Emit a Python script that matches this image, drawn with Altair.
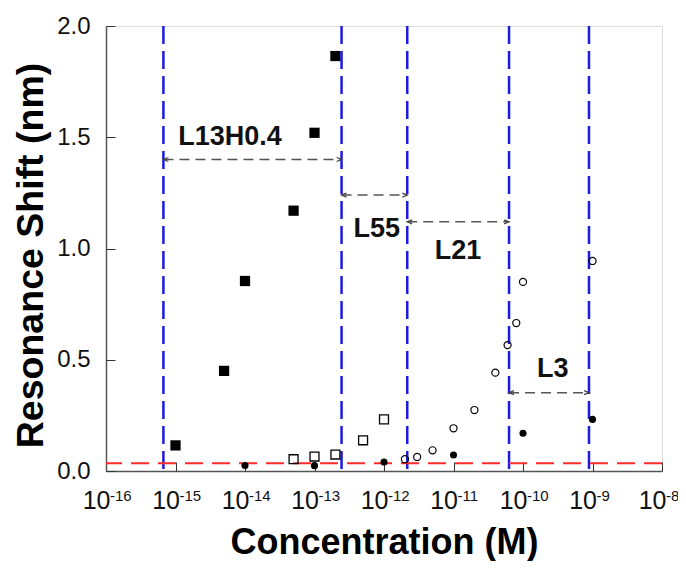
import altair as alt
import pandas as pd

FONT = "Liberation Sans"

# ---- axis definitions ----
x_domain = [1e-16, 1e-8]
y_domain = [0.0, 2.0]
x_ticks = [1e-16, 1e-15, 1e-14, 1e-13, 1e-12, 1e-11, 1e-10, 1e-9, 1e-8]
x_tick_base = "10"
x_tick_exponents = ["-16", "-15", "-14", "-13", "-12", "-11", "-10", "-9", "-8"]
y_ticks = [0.0, 0.5, 1.0, 1.5, 2.0]

# ---- data series ----
filled_sq_x = [1e-15, 5e-15, 1e-14, 5e-14, 1e-13, 2e-13]
filled_sq_y = [0.115, 0.45, 0.854, 1.17, 1.52, 1.865]

open_sq_x = [5e-14, 1e-13, 2e-13, 5e-13, 1e-12]
open_sq_y = [0.053, 0.065, 0.074, 0.138, 0.232]

open_circ_x = [2e-12, 3e-12, 5e-12, 1e-11, 2e-11, 4e-11, 6e-11, 8e-11, 1e-10, 1e-9]
open_circ_y = [0.053, 0.063, 0.093, 0.192, 0.274, 0.442, 0.566, 0.665, 0.85, 0.944]

filled_circ_x = [1e-14, 1e-13, 1e-12, 1e-11, 1e-10, 1e-9]
filled_circ_y = [0.025, 0.024, 0.04, 0.072, 0.17, 0.232]

# ---- reference lines / annotations ----
boundary_x = [6.7e-16, 2.45e-13, 2.16e-12, 6.3e-11, 8.9e-10]
baseline_y = [0.035]

range_names = ["L13H0.4", "L55", "L21", "L3"]
range_start = [6.7e-16, 2.45e-13, 2.16e-12, 6.3e-11]
range_end = [2.45e-13, 2.16e-12, 6.3e-11, 8.9e-10]
range_arrow_y = [1.40, 1.24, 1.12, 0.352]
range_label_x = [6.1e-15, 7.85e-13, 1.16e-11, 2.67e-10]
range_label_y = [1.50, 1.086, 0.987, 0.457]

# ---- frames ----
def pts(xs, ys):
    return pd.DataFrame({"conc": xs, "shift": ys})

arrows = pd.DataFrame({"name": range_names, "x1": range_start, "x2": range_end, "y": range_arrow_y})
heads_left = pd.DataFrame({"x": range_start, "y": range_arrow_y})
heads_right = pd.DataFrame({"x": range_end, "y": range_arrow_y})
labels = pd.DataFrame({"name": range_names, "x": range_label_x, "y": range_label_y})
exps = pd.DataFrame({"x": x_ticks, "e": x_tick_exponents})

xscale = alt.Scale(type="log", domain=x_domain)
yscale = alt.Scale(domain=y_domain)

x_axis_main = alt.Axis(
    values=x_ticks, labelExpr=f"'{x_tick_base}'", ticks=False, tickSize=0, grid=False,
    domain=True, domainColor="#555555", domainWidth=1.5,
    labelFont=FONT, labelFontSize=25, labelColor="#111111", labelPadding=37.5,
    labelBaseline="alphabetic", labelAlign="right", labelOffset=4,
    labelFlush=False, labelOverlap=False,
    title="Concentration (M)", titleFont=FONT, titleFontSize=36, titleFontWeight="bold",
    titleColor="#000000", titleX=278, titleY=82, titleBaseline="alphabetic", orient="bottom",
)
y_axis_main = alt.Axis(
    values=y_ticks, format=".1f", ticks=False, tickSize=0, grid=False,
    domain=True, domainColor="#555555", domainWidth=1.5,
    labelFont=FONT, labelFontSize=24, labelColor="#111111", labelPadding=16,
    labelFlush=False, labelOverlap=False,
    title="Resonance Shift (nm)", titleFont=FONT, titleFontSize=37.5, titleFontWeight="bold",
    titleColor="#000000", titleX=-64, titleY=229, titleAngle=270, titleBaseline="alphabetic",
    orient="left",
)
x_axis_ticks = alt.Axis(
    values=x_ticks, ticks=True, tickSize=9, tickColor="#333333", tickWidth=1,
    labels=False, domain=False, grid=False, offset=-9, title=None, orient="bottom",
)
y_axis_ticks = alt.Axis(
    values=y_ticks, ticks=True, tickSize=9, tickColor="#333333", tickWidth=1,
    labels=False, domain=False, grid=False, offset=-9, title=None, orient="left",
)


def X(f, ax=None):
    return alt.X(f, type="quantitative", scale=xscale, axis=ax)


def Y(f, ax=None):
    return alt.Y(f, type="quantitative", scale=yscale, axis=ax)


main_pts = alt.Chart(pts(filled_sq_x, filled_sq_y)).mark_point(
    shape="square", filled=True, color="#000000", size=105, opacity=1
).encode(x=X("conc", x_axis_main), y=Y("shift", y_axis_main))

tick_layer = alt.Chart(pd.DataFrame({"x": [1e-16], "y": [0.0]})).mark_point(opacity=0).encode(
    x=X("x", x_axis_ticks), y=Y("y", y_axis_ticks)
)

open_sq = alt.Chart(pts(open_sq_x, open_sq_y)).mark_point(
    shape="square", filled=False, color="#000000", size=80, strokeWidth=1.3, opacity=1
).encode(x=X("conc"), y=Y("shift"))

open_circ = alt.Chart(pts(open_circ_x, open_circ_y)).mark_point(
    shape="circle", filled=False, color="#000000", size=50, strokeWidth=1.2, opacity=1
).encode(x=X("conc"), y=Y("shift"))

filled_circ = alt.Chart(pts(filled_circ_x, filled_circ_y)).mark_point(
    shape="circle", filled=True, color="#000000", size=50, opacity=1
).encode(x=X("conc"), y=Y("shift"))

vlines = alt.Chart(pd.DataFrame({"x": boundary_x})).mark_rule(
    color="#1c1ce0", strokeWidth=2.5, strokeDash=[18, 7]
).encode(x=X("x"))

hline = alt.Chart(pd.DataFrame({"y": baseline_y})).mark_rule(
    color="#ff2a2a", strokeWidth=2, strokeDash=[18, 9]
).encode(y=Y("y"))

arrow_lines = alt.Chart(arrows).mark_rule(
    color="#555555", strokeWidth=1.5, strokeDash=[10, 6]
).encode(x=X("x1"), x2="x2", y=Y("y"))

left_heads = alt.Chart(heads_left).mark_point(
    shape="M 2.2 -0.9 L 0 0 L 2.2 0.9", filled=False, color="#444444", size=20, strokeWidth=1.3, opacity=1
).encode(x=X("x"), y=Y("y"))
right_heads = alt.Chart(heads_right).mark_point(
    shape="M -2.2 -0.9 L 0 0 L -2.2 0.9", filled=False, color="#444444", size=20, strokeWidth=1.3, opacity=1
).encode(x=X("x"), y=Y("y"))

texts = alt.Chart(labels).mark_text(
    font=FONT, fontSize=27, fontWeight="bold", color="#111111", align="center", baseline="middle"
).encode(x=X("x"), y=Y("y"), text="name:N")

exp_text = alt.Chart(exps).mark_text(
    font=FONT, fontSize=15, color="#111111", align="left", baseline="alphabetic", dx=4
).encode(x=X("x"), y=alt.value(474.5), text="e:N")

chart = alt.layer(
    main_pts, tick_layer, vlines, hline, arrow_lines, left_heads, right_heads,
    open_sq, open_circ, filled_circ, texts, exp_text,
).resolve_axis(x="independent", y="independent").properties(
    width=556, height=445,
    autosize=alt.AutoSizeParams(type="none"),
    padding={"left": 98, "top": 18, "right": 16, "bottom": 90},
).configure_view(stroke="#9a9a9a", strokeWidth=1.5).configure(background="white")

chart.save("out.html", embed_options={"renderer": "svg", "actions": False})
